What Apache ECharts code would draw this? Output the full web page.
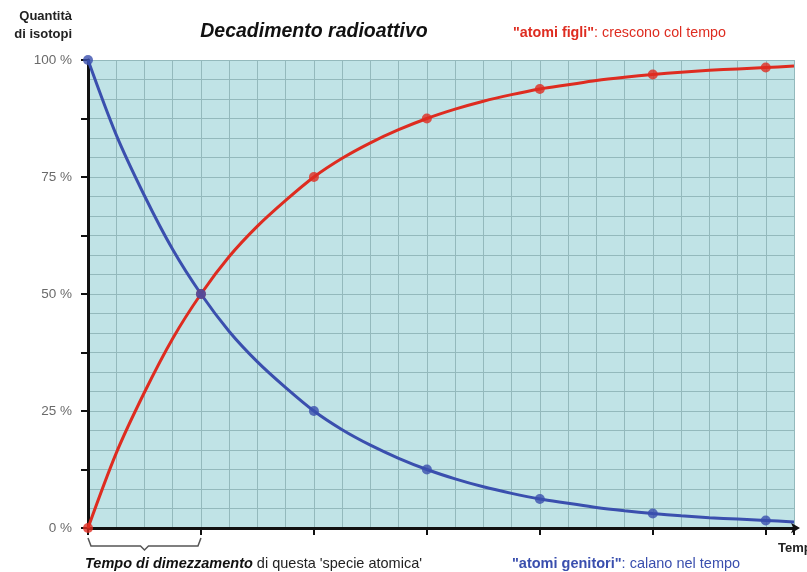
<!DOCTYPE html>
<html>
<head>
<meta charset="utf-8">
<script src="https://cdn.jsdelivr.net/npm/echarts@6/dist/echarts.min.js"></script>
<style>
html,body{margin:0;padding:0;background:#fff;}
#c{width:807px;height:572px;}
</style>
</head>
<body>
<div id="c"></div>
<script>
// time in half-lives, sampled every quarter half-life
var timeSteps = [0,0.25,0.5,0.75,1,1.25,1.5,1.75,2,2.25,2.5,2.75,3,3.25,3.5,3.75,4,4.25,4.5,4.75,5,5.25,5.5,5.75,6,6.25];
// parent atoms (%)
var parentValues = [100,84,71,59.5,50,42,35.5,30,25,21,17.7,14.9,12.5,10.5,8.8,7.4,6.2,5.3,4.4,3.7,3.1,2.6,2.2,1.9,1.6,1.3];
// daughter atoms (%)
var daughterValues = [0,16,29,40.5,50,58,64.5,70,75,79,82.3,85.1,87.5,89.5,91.2,92.6,93.8,94.7,95.6,96.3,96.9,97.4,97.8,98.1,98.4,98.7];
// half-lives where dots are drawn
var markerTimes = [0,1,2,3,4,5,6];
var yTickLabels = {0:'0 %',25:'25 %',50:'50 %',75:'75 %',100:'100 %'};

var blue = '#3a4fae';
var red = '#de2c20';
var gridCol = '#93b9bc';
var FF = 'Liberation Sans, Arial, sans-serif';

function pairs(vals){ return timeSteps.map(function(t,i){ return [t, vals[i]]; }); }
function markerPairs(vals){
  return timeSteps.map(function(t,i){ return [t, vals[i]]; }).filter(function(p){ return markerTimes.indexOf(p[0]) >= 0; });
}

var chart = echarts.init(document.getElementById('c'), null, {renderer:'canvas'});
var option = {
  backgroundColor:'#ffffff',
  animation:false,
  grid:{left:88,right:13,top:60,bottom:44,show:true,backgroundColor:'#c0e3e6',borderWidth:0},
  title:[
    {text:'Decadimento radioattivo',left:314,top:22,textAlign:'center',padding:0,
     textStyle:{fontFamily:FF,fontSize:19.5,fontWeight:'bold',fontStyle:'italic',color:'#111'}},
    {text:'{b|"atomi figli"}{n|: crescono col tempo}',left:513,top:26,padding:0,
     textStyle:{rich:{
       b:{fontFamily:FF,fontSize:14.3,fontWeight:'bold',color:red},
       n:{fontFamily:FF,fontSize:14.3,fontWeight:'normal',color:red}}}},
    {text:'{b|"atomi genitori"}{n|: calano nel tempo}',left:512,top:556,padding:0,
     textStyle:{rich:{
       b:{fontFamily:FF,fontSize:14.5,fontWeight:'bold',color:blue},
       n:{fontFamily:FF,fontSize:14.5,fontWeight:'normal',color:blue}}}},
    {text:'{b|Tempo di dimezzamento}{n| di questa \'specie atomica\'}',left:85,top:556,padding:0,
     textStyle:{rich:{
       b:{fontFamily:FF,fontSize:14.5,fontWeight:'bold',fontStyle:'italic',color:'#111'},
       n:{fontFamily:FF,fontSize:14.5,fontWeight:'normal',color:'#222'}}}},
    {text:'Tempo',left:778,top:542,padding:0,
     textStyle:{fontFamily:FF,fontSize:13,fontWeight:'bold',color:'#222'}}
  ],
  xAxis:{
    type:'value',min:0,max:6.25,interval:1,
    axisLine:{show:true,onZero:false,lineStyle:{color:'#111',width:3},symbol:['none','arrow'],symbolSize:[8,9],symbolOffset:[0,6]},
    axisTick:{show:true,inside:false,length:7,lineStyle:{color:'#111',width:2}},
    axisLabel:{show:false},
    splitLine:{show:true,lineStyle:{color:gridCol,width:1}},
    minorTick:{show:false,splitNumber:4},
    minorSplitLine:{show:true,lineStyle:{color:gridCol,width:1}}
  },
  yAxis:{
    type:'value',min:0,max:100,interval:12.5,
    axisLine:{show:true,onZero:false,lineStyle:{color:'#111',width:3}},
    axisTick:{show:true,inside:false,length:7,lineStyle:{color:'#111',width:2}},
    axisLabel:{show:true,margin:16,color:'#6a6a6a',fontFamily:FF,fontSize:13.5,
      formatter:function(v){ return yTickLabels[v] !== undefined ? yTickLabels[v] : ''; }},
    splitLine:{show:true,lineStyle:{color:gridCol,width:1}},
    minorTick:{show:false,splitNumber:3},
    minorSplitLine:{show:true,lineStyle:{color:gridCol,width:1}}
  },
  series:[
    {type:'line',data:pairs(daughterValues),smooth:0.3,showSymbol:false,clip:false,z:3,
     lineStyle:{color:red,width:3}},
    {type:'line',data:pairs(parentValues),smooth:0.3,showSymbol:false,clip:false,z:3,
     lineStyle:{color:blue,width:3}},
    {type:'scatter',data:markerPairs(daughterValues),symbol:'circle',symbolSize:10,clip:false,z:4,
     itemStyle:{color:red}},
    {type:'scatter',data:markerPairs(parentValues),symbol:'circle',symbolSize:10,clip:false,z:5,
     itemStyle:{color:blue}}
  ]
};
chart.setOption(option);

// brace under the first half-life and the y-axis caption
var p0 = chart.convertToPixel({gridIndex:0},[0,0]);
var p1 = chart.convertToPixel({gridIndex:0},[1,0]);
var by = p0[1] + 18, mid = (p0[0]+p1[0])/2;
chart.setOption({graphic:[
  {type:'polyline',
   shape:{points:[[p0[0],by-8],[p0[0]+3,by],[mid-4,by],[mid,by+4],[mid+4,by],[p1[0]-3,by],[p1[0],by-8]]},
   style:{stroke:'#555',lineWidth:1.5,fill:null}},
  {type:'text',x:72,y:7,style:{text:'Quantità\ndi isotopi',align:'right',verticalAlign:'top',
   font:'bold 13px '+FF,fill:'#222',lineHeight:18}}
]});
</script>
</body>
</html>
